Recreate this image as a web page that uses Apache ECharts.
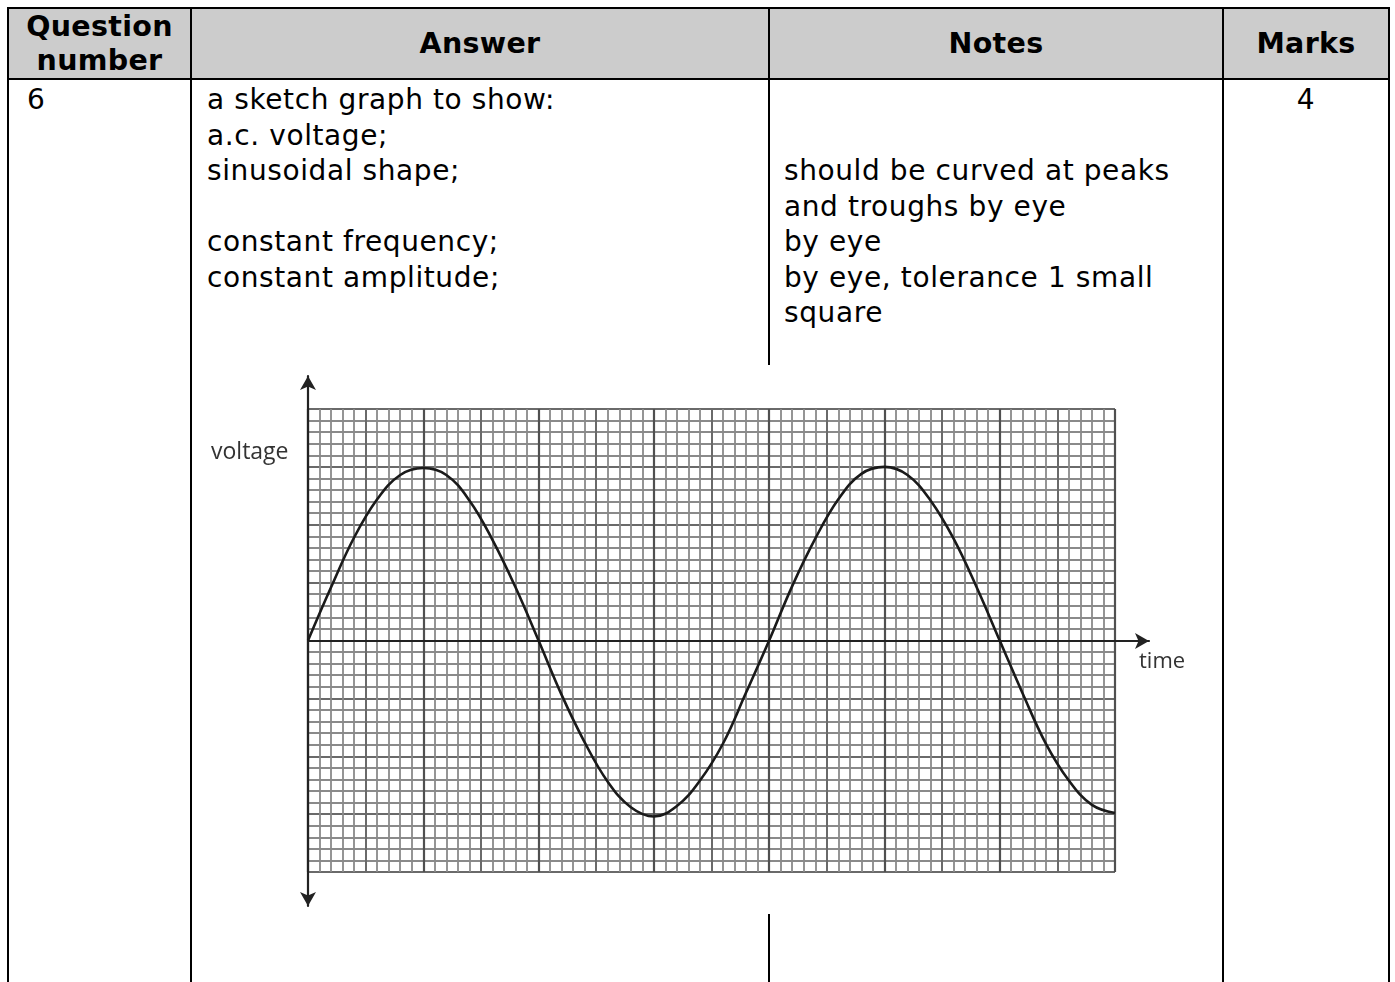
<!DOCTYPE html>
<html>
<head>
<meta charset="utf-8">
<script src="https://cdn.jsdelivr.net/npm/echarts@6/dist/echarts.min.js"></script>
<style>
  html, body { margin: 0; padding: 0; background: #fff; }
  body { width: 1395px; height: 982px; position: relative; overflow: hidden; font-family: "DejaVu Sans", Verdana, sans-serif; }
  table { position: absolute; left: 7px; top: 7px; border-collapse: collapse; table-layout: fixed; width: 1381px; }
  td, th { border: 2px solid #000; vertical-align: top; padding: 0; font-size: 28px; letter-spacing: 0.6px; line-height: 35.5px; color: #000; }
  th { background: #ccc; height: 69px; vertical-align: middle; font-weight: bold; font-size: 28.5px; letter-spacing: 0.3px; line-height: 34px; }
  td { height: 1000px; padding-top: 2px; }
  .q { padding-left: 18px; }
  .ans { padding-left: 15px; }
  .notes { padding-left: 14px; }
  .mk { text-align: center; }
  #main { position: absolute; left: 0; top: 0; width: 1395px; height: 982px; }
</style>
</head>
<body>
<table>
  <colgroup><col style="width:183px"><col style="width:578px"><col style="width:454px"><col style="width:166px"></colgroup>
  <tr><th>Question<br>number</th><th>Answer</th><th>Notes</th><th>Marks</th></tr>
  <tr>
    <td class="q">6</td>
    <td class="ans">a sketch graph to show:<br>a.c. voltage;<br>sinusoidal shape;<br><br>constant frequency;<br>constant amplitude;</td>
    <td class="notes"><br><br>should be curved at peaks<br>and troughs by eye<br>by eye<br>by eye, tolerance 1 small<br>square</td>
    <td class="mk">4</td>
  </tr>
</table>
<div id="main"></div>
<script>
const myChart = echarts.init(document.getElementById('main'));

// time in small squares, voltage in small squares
const timeSteps = [0, 2, 4, 6, 8, 10, 12, 14, 16, 18, 20, 22, 24, 26, 28, 30, 32, 34,
  36, 38, 40, 42, 44, 46, 48, 50, 52, 54, 56, 58, 60, 62, 64, 66, 68, 70];
const voltage = [0, 4.6, 8.9, 12.2, 14.3, 14.9, 14.3, 12.1, 8.7, 4.6, 0, -4.7, -8.8, -12.2,
  -14.4, -15.2, -14.3, -12.1, -8.9, -4.5, 0, 4.7, 8.8, 12.2, 14.4, 15.0, 14.3, 12.1, 8.8,
  4.6, 0, -4.6, -8.9, -12.1, -14.2, -14.9];
const xLabel = 'time';
const yLabel = 'voltage';

const hidden = { axisLine: { show: false }, axisTick: { show: false }, axisLabel: { show: false } };
const minorLine = { show: true, lineStyle: { color: '#8a8a8a', width: 1.8 } };
const midLine = { show: true, lineStyle: { color: '#6a6a6a', width: 2 } };
const majorLine = { show: true, lineStyle: { color: '#505050', width: 2.2 } };

myChart.setOption({
  animation: false,
  grid: [
    { left: 308, top: 409, width: 807, height: 463 },
    { left: 308, top: 376, width: 841, height: 530 },
  ],
  xAxis: [
    { type: 'value', gridIndex: 0, min: 0, max: 70, interval: 5, ...hidden,
      splitLine: midLine, minorTick: { show: false, splitNumber: 5 }, minorSplitLine: minorLine },
    { type: 'value', gridIndex: 0, min: 0, max: 70, interval: 10, ...hidden, splitLine: majorLine },
    { type: 'value', gridIndex: 1, min: 0, max: 73, interval: 73, splitLine: { show: false },
      axisTick: { show: false }, axisLabel: { show: false },
      axisLine: { show: true, onZero: true, symbol: ['none', 'arrow'], symbolSize: [12, 14],
        lineStyle: { color: '#222', width: 2.2 } } },
  ],
  yAxis: [
    { type: 'value', gridIndex: 0, min: -20, max: 20, interval: 5, ...hidden,
      splitLine: midLine, minorTick: { show: false, splitNumber: 5 }, minorSplitLine: minorLine },
    { type: 'value', gridIndex: 1, min: -23, max: 23, interval: 23, splitLine: { show: false },
      axisTick: { show: false }, axisLabel: { show: false },
      axisLine: { show: true, symbol: ['arrow', 'arrow'], symbolSize: [12, 14],
        lineStyle: { color: '#222', width: 2.2 } } },
  ],
  graphic: [
    { type: 'rect', z: -10, silent: true, shape: { x: 198, y: 365, width: 1018, height: 549 },
      style: { fill: '#fff' } },
    { type: 'text', left: 211, top: 441, style: { text: yLabel, fill: '#333',
      font: '23px "Open Sans", sans-serif' } },
    { type: 'text', left: 1139, top: 651, style: { text: xLabel, fill: '#333',
      font: '22px "Open Sans", sans-serif' } },
  ],
  series: [
    {
      type: 'line',
      xAxisIndex: 0,
      yAxisIndex: 0,
      data: timeSteps.map((t, i) => [t, voltage[i]]),
      smooth: 0.4,
      showSymbol: false,
      lineStyle: { color: '#1a1a1a', width: 2.6 },
      z: 10,
    },
  ],
});
</script>
</body>
</html>
